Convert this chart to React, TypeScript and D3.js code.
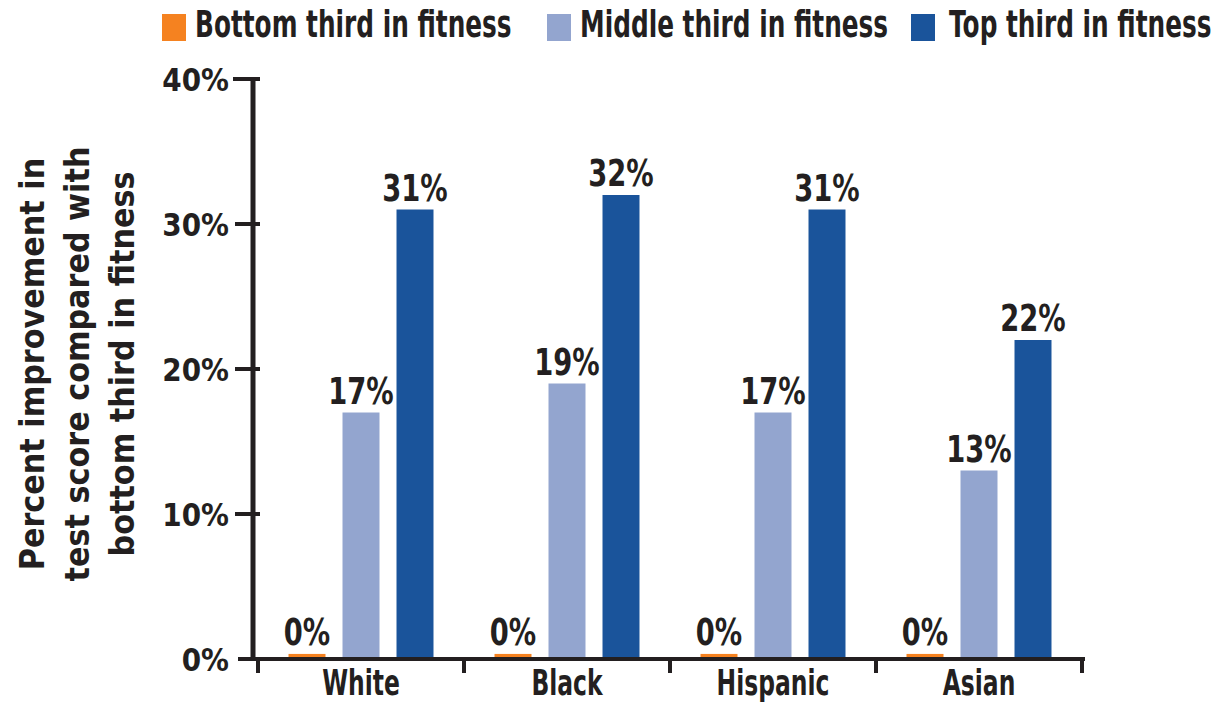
import React from 'react';
import * as d3 from 'd3';

const categories = ['White', 'Black', 'Hispanic', 'Asian'];
const seriesNames = ['Bottom third in fitness', 'Middle third in fitness', 'Top third in fitness'];
const bottomThird = [0.35, 0.35, 0.35, 0.35];
const middleThird = [17, 19, 17, 13];
const topThird = [31, 32, 31, 22];
const yTicks = [0, 10, 20, 30, 40];
const yTitleLines = ['Percent improvement in', 'test score compared with', 'bottom third in fitness'];

const colors = ['#F58220', '#93A5CF', '#1A549B'];
const ink = '#231F20';
const FONT = "'DejaVu Sans', sans-serif";

type TProps = {
  x: number; y: number; size: number; sx: number; anchor?: string; rotate?: number; children: React.ReactNode;
};
const CText = ({ x, y, size, sx, anchor = 'start', rotate = 0, children }: TProps) => (
  <text
    transform={`translate(${x},${y}) rotate(${rotate}) scale(${sx},1)`}
    textAnchor={anchor}
    fontFamily={FONT}
    fontWeight="bold"
    fontSize={size}
    fill={ink}
  >
    {children}
  </text>
);

export default function App() {
  const W = 1220, H = 704;
  const seriesValues = [bottomThird, middleThird, topThird];

  const x0 = d3.scaleBand<string>().domain(categories).range([258, 1082]).padding(0);
  const x1 = d3
    .scaleBand<string>()
    .domain(seriesNames)
    .range([0, x0.bandwidth()])
    .paddingInner(0.315)
    .paddingOuter(0.565);
  const y = d3.scaleLinear().domain([0, 40]).range([659, 79]);

  const axisX = 253;
  const legendItems = [
    { sx: 162, tx: 195 },
    { sx: 547, tx: 580 },
    { sx: 911, tx: 949 },
  ];

  return (
    <svg width={W} height={H} style={{ position: 'absolute', left: 0, top: 0, background: '#fff' }}>
      {/* legend */}
      {seriesNames.map((s, i) => (
        <g key={s}>
          <rect x={legendItems[i].sx} y={14} width={24} height={27} fill={colors[i]} />
          <CText x={legendItems[i].tx} y={37} size={37} sx={0.67}>{s}</CText>
        </g>
      ))}

      {/* y axis title */}
      {yTitleLines.map((l, i) => (
        <CText key={l} x={44 + i * 45} y={364} size={34} sx={0.89} anchor="middle" rotate={-90}>{l}</CText>
      ))}

      {/* bars */}
      {categories.map((c, ci) => (
        <g key={c}>
          {seriesNames.map((s, si) => {
            const v = seriesValues[si][ci];
            const bx = (x0(c) as number) + (x1(s) as number);
            return (
              <rect key={s} x={bx} y={y(v)} width={x1.bandwidth()} height={y(0) - y(v)} fill={colors[si]} />
            );
          })}
        </g>
      ))}

      {/* data labels */}
      {categories.map((c, ci) => (
        <g key={c + '-lbl'}>
          {seriesNames.map((s, si) => {
            const v = seriesValues[si][ci];
            const cx = (x0(c) as number) + (x1(s) as number) + x1.bandwidth() / 2;
            return (
              <CText key={s} x={cx} y={y(v) - 9} size={37} sx={0.74} anchor="middle">
                {Math.round(v) + '%'}
              </CText>
            );
          })}
        </g>
      ))}

      {/* y axis */}
      <line x1={axisX} x2={axisX} y1={y(40) - 2} y2={y(0)} stroke={ink} strokeWidth={5} />
      {yTicks.filter((t) => t > 0).map((t) => (
        <line key={t} x1={t === 40 ? 233 : 235} x2={260} y1={y(t)} y2={y(t)} stroke={ink} strokeWidth={4} />
      ))}
      {yTicks.map((t) => (
        <CText key={'yl' + t} x={229} y={y(t) + 11.5} size={32} sx={0.87} anchor="end">{t + '%'}</CText>
      ))}

      {/* x axis */}
      <line x1={238} x2={1085} y1={y(0)} y2={y(0)} stroke={ink} strokeWidth={4} />
      {[...categories.map((c) => x0(c) as number), x0.range()[1]].map((tx, i) => (
        <line key={'xt' + i} x1={tx} x2={tx} y1={y(0)} y2={673} stroke={ink} strokeWidth={4} />
      ))}
      {categories.map((c) => (
        <CText key={'xl' + c} x={(x0(c) as number) + x0.bandwidth() / 2} y={695} size={35} sx={0.67} anchor="middle">{c}</CText>
      ))}
    </svg>
  );
}
